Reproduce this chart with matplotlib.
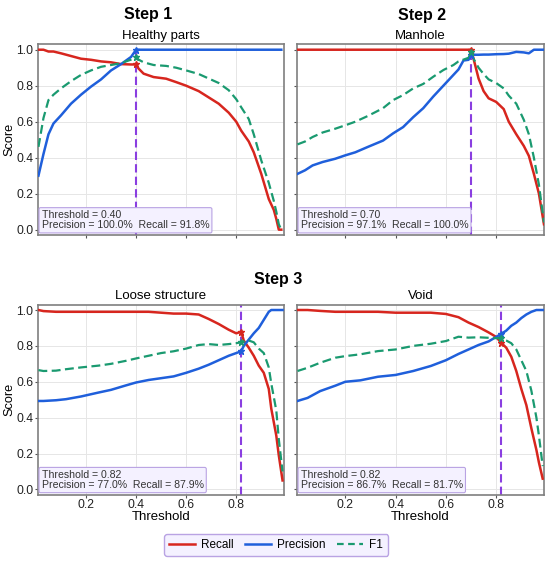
import matplotlib
matplotlib.use("Agg")
import matplotlib.pyplot as plt
from matplotlib.lines import Line2D

plt.rcParams['font.family'] = ['Liberation Sans', 'DejaVu Sans']

# panel names and thresholds
titles = ["Healthy parts", "Manhole", "Loose structure", "Void"]
thresholds = [0.40, 0.70, 0.82, 0.82]
best_precision = [1.000, 0.971, 0.770, 0.867]
best_recall = [0.918, 1.000, 0.879, 0.817]

# Healthy parts
t_healthy = [0.01, 0.03, 0.05, 0.07, 0.10, 0.14, 0.18, 0.22, 0.26, 0.30, 0.34,
             0.38, 0.40, 0.41, 0.43, 0.47, 0.52, 0.56, 0.60, 0.65, 0.69, 0.73,
             0.77, 0.80, 0.82, 0.85, 0.87, 0.90, 0.93, 0.95, 0.96, 0.97, 0.98]
rec_healthy = [1.0, 1.0, 0.99, 0.99, 0.98, 0.965, 0.95, 0.944, 0.935, 0.93, 0.92,
               0.918, 0.918, 0.895, 0.867, 0.848, 0.839, 0.82, 0.80, 0.77, 0.735, 0.70,
               0.65, 0.60, 0.55, 0.49, 0.43, 0.31, 0.17, 0.11, 0.06, 0.0, 0.0]
prec_healthy = [0.30, 0.42, 0.53, 0.59, 0.635, 0.70, 0.75, 0.795, 0.835, 0.885, 0.92,
                0.96, 1.0, 1.0, 1.0, 1.0, 1.0, 1.0, 1.0, 1.0, 1.0, 1.0,
                1.0, 1.0, 1.0, 1.0, 1.0, 1.0, 1.0, 1.0, 1.0, 1.0, 1.0]
f1_healthy = [0.46, 0.62, 0.72, 0.75, 0.785, 0.825, 0.86, 0.885, 0.905, 0.915, 0.925,
              0.945, 0.958, 0.945, 0.93, 0.915, 0.91, 0.90, 0.885, 0.865, 0.84, 0.815,
              0.775, 0.725, 0.68, 0.615, 0.53, 0.385, 0.26, 0.16, 0.10, 0.03, 0.0]

# Manhole
t_manhole = [0.01, 0.04, 0.07, 0.11, 0.16, 0.20, 0.24, 0.29, 0.35, 0.39, 0.43,
             0.47, 0.51, 0.55, 0.59, 0.63, 0.65, 0.67, 0.69, 0.70, 0.71, 0.73,
             0.75, 0.77, 0.80, 0.83, 0.85, 0.88, 0.91, 0.93, 0.95, 0.97, 0.99]
rec_manhole = [1.0, 1.0, 1.0, 1.0, 1.0, 1.0, 1.0, 1.0, 1.0, 1.0, 1.0,
               1.0, 1.0, 1.0, 1.0, 1.0, 1.0, 1.0, 1.0, 1.0, 0.95, 0.84,
               0.77, 0.73, 0.71, 0.67, 0.60, 0.53, 0.465, 0.41, 0.31, 0.20, 0.03]
prec_manhole = [0.31, 0.33, 0.357, 0.376, 0.394, 0.413, 0.43, 0.46, 0.495, 0.535, 0.57,
                0.625, 0.675, 0.74, 0.80, 0.86, 0.89, 0.94, 0.944, 0.971, 0.972, 0.972,
                0.973, 0.973, 0.975, 0.976, 0.978, 0.988, 0.985, 0.98, 1.0, 1.0, 1.0]
f1_manhole = [0.474, 0.49, 0.515, 0.54, 0.561, 0.58, 0.60, 0.632, 0.675, 0.72, 0.748,
              0.785, 0.81, 0.85, 0.887, 0.915, 0.935, 0.945, 0.955, 0.985, 0.95, 0.90,
              0.865, 0.835, 0.815, 0.785, 0.745, 0.70, 0.61, 0.53, 0.40, 0.25, 0.04]

# Loose structure
t_loose = [0.01, 0.03, 0.08, 0.12, 0.18, 0.25, 0.30, 0.36, 0.40, 0.45, 0.50,
           0.55, 0.60, 0.65, 0.69, 0.73, 0.77, 0.80, 0.82, 0.83, 0.85, 0.87,
           0.89, 0.91, 0.93, 0.94, 0.96, 0.97, 0.985]
rec_loose = [1.0, 0.994, 0.99, 0.99, 0.99, 0.99, 0.99, 0.99, 0.99, 0.99, 0.985,
             0.98, 0.98, 0.975, 0.95, 0.922, 0.89, 0.87, 0.879, 0.83, 0.79, 0.745,
             0.69, 0.65, 0.56, 0.45, 0.30, 0.19, 0.05]
prec_loose = [0.493, 0.493, 0.497, 0.503, 0.518, 0.54, 0.555, 0.58, 0.596, 0.61, 0.62,
              0.63, 0.65, 0.673, 0.695, 0.72, 0.745, 0.76, 0.77, 0.80, 0.835, 0.87,
              0.90, 0.945, 0.99, 1.0, 1.0, 1.0, 1.0]
f1_loose = [0.665, 0.66, 0.662, 0.67, 0.68, 0.69, 0.70, 0.717, 0.73, 0.745, 0.76,
            0.77, 0.785, 0.805, 0.81, 0.805, 0.81, 0.815, 0.82, 0.825, 0.83, 0.82,
            0.785, 0.76, 0.68, 0.59, 0.44, 0.28, 0.10]

# Void
t_void = [0.01, 0.05, 0.10, 0.16, 0.20, 0.26, 0.33, 0.40, 0.47, 0.54, 0.60,
          0.65, 0.69, 0.73, 0.77, 0.80, 0.82, 0.84, 0.86, 0.88, 0.90, 0.92,
          0.94, 0.96, 0.97, 0.985]
rec_void = [1.0, 1.0, 0.995, 0.99, 0.99, 0.99, 0.99, 0.985, 0.985, 0.985, 0.978,
            0.96, 0.93, 0.905, 0.875, 0.85, 0.817, 0.79, 0.74, 0.66, 0.56, 0.47,
            0.34, 0.22, 0.15, 0.06]
prec_void = [0.493, 0.51, 0.548, 0.578, 0.60, 0.608, 0.628, 0.638, 0.66, 0.688, 0.72,
             0.755, 0.78, 0.805, 0.825, 0.85, 0.867, 0.885, 0.912, 0.93, 0.955, 0.975,
             0.99, 1.0, 1.0, 1.0]
f1_void = [0.66, 0.678, 0.706, 0.734, 0.743, 0.753, 0.771, 0.78, 0.80, 0.812, 0.827,
           0.851, 0.846, 0.848, 0.845, 0.843, 0.84, 0.83, 0.815, 0.78, 0.72, 0.66,
           0.55, 0.40, 0.30, 0.13]

panels = [
    (t_healthy, rec_healthy, prec_healthy, f1_healthy),
    (t_manhole, rec_manhole, prec_manhole, f1_manhole),
    (t_loose, rec_loose, prec_loose, f1_loose),
    (t_void, rec_void, prec_void, f1_void),
]

RED = "#d7261e"
BLUE = "#1f5fdb"
GREEN = "#1a9a70"
PURPLE = "#8a3ee0"
BOX_FACE = "#f4f1ff"
BOX_EDGE = "#b9a3e3"

fig = plt.figure(figsize=(5.5, 5.61), dpi=100)
positions = [
    [0.069, 0.581, 0.447, 0.340],
    [0.540, 0.581, 0.449, 0.340],
    [0.069, 0.118, 0.447, 0.339],
    [0.540, 0.118, 0.449, 0.339],
]

for i, (t, rec, prec, f1) in enumerate(panels):
    ax = fig.add_axes(positions[i])
    ax.plot(t, rec, color=RED, lw=1.8, zorder=3)
    ax.plot(t, prec, color=BLUE, lw=1.8, zorder=3)
    ax.plot(t, f1, color=GREEN, lw=1.6, ls=(0, (4, 2)), zorder=3)

    thr = thresholds[i]
    p, r = best_precision[i], best_recall[i]
    # top row: marker line stops at 1.0
    top = 1.0 if i < 2 else 1.03
    ax.vlines(thr, -0.03, top, color=PURPLE, lw=1.5, ls=(0, (4, 2)), zorder=2)
    ax.plot([thr], [r], marker='*', color=RED, ms=5, zorder=4)
    ax.plot([thr], [p], marker='*', color=BLUE, ms=5, zorder=4)
    ax.plot([thr], [2 * p * r / (p + r)], marker='*', color=GREEN, ms=5, zorder=4)

    txt = "Threshold = %.2f\nPrecision = %.1f%%  Recall = %.1f%%" % (thr, p * 100, r * 100)
    ax.text(0.015, 0.025, txt, transform=ax.transAxes, fontsize=7.6, color="#333333",
            va='bottom', ha='left', linespacing=1.0, zorder=5,
            bbox=dict(boxstyle="round,pad=0.25,rounding_size=0.15",
                      fc=BOX_FACE, ec=BOX_EDGE, lw=0.8))

    ax.set_xlim(0.008, 0.99)
    ax.set_ylim(-0.03, 1.03)
    ax.set_xticks([0.2, 0.4, 0.6, 0.8])
    ax.set_yticks([0.0, 0.2, 0.4, 0.6, 0.8, 1.0])
    ax.grid(True, color="#e6e6e6", lw=0.7)
    ax.set_axisbelow(True)
    for s in ax.spines.values():
        s.set_color("#7f7f7f")
        s.set_linewidth(1.2)
    ax.tick_params(colors="#555555", labelcolor="#222222", labelsize=8.7,
                   length=2.2, width=0.8, pad=1)
    ax.set_title(titles[i], fontsize=9.5, pad=4)

    if i % 2 == 0:
        ax.set_ylabel("Score", fontsize=9.2, labelpad=1)
    else:
        ax.tick_params(labelleft=False)
    if i >= 2:
        ax.set_xlabel("Threshold", fontsize=9.5, labelpad=0)
    else:
        ax.tick_params(labelbottom=False)

fig.text(0.27, 0.975, "Step 1", ha='center', va='center', fontsize=11.5, fontweight='bold')
fig.text(0.767, 0.973, "Step 2", ha='center', va='center', fontsize=11.5, fontweight='bold')
fig.text(0.505, 0.501, "Step 3", ha='center', va='center', fontsize=11.5, fontweight='bold')

handles = [
    Line2D([], [], color=RED, lw=1.8),
    Line2D([], [], color=BLUE, lw=1.8),
    Line2D([], [], color=GREEN, lw=1.6, ls=(0, (3, 2))),
]
leg = fig.legend(handles, ["Recall", "Precision", "F1"], loc='center',
                 bbox_to_anchor=(0.502, 0.0285), ncol=3, fontsize=8.5,
                 frameon=True, fancybox=True, handlelength=2.2,
                 columnspacing=1.0, handletextpad=0.5, borderpad=0.4)
leg.get_frame().set_facecolor(BOX_FACE)
leg.get_frame().set_edgecolor(BOX_EDGE)
leg.get_frame().set_linewidth(1.0)
leg.get_frame().set_alpha(1.0)

fig.savefig("out.png", dpi=100)
